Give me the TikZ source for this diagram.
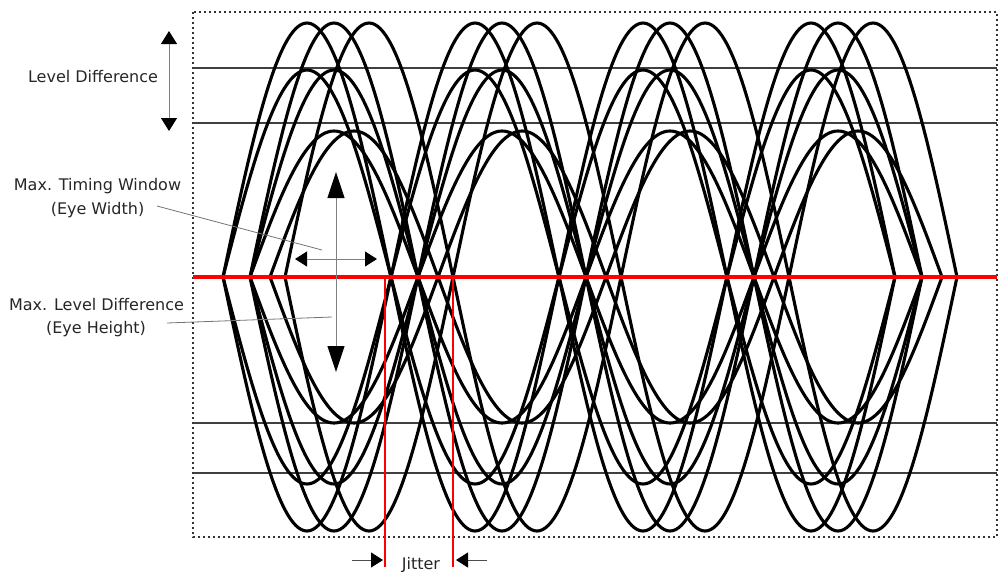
\documentclass[tikz,border=0pt]{standalone}
\usepackage{fontspec}
\setmainfont{DejaVu Sans}
\usetikzlibrary{arrows.meta}
\begin{document}
\begin{tikzpicture}[x=1pt,y=-1pt,
  lobe/.style={line width=3.1pt, black, line cap=round, line join=round},
  levelline/.style={line width=1.5pt, black!75},
  redline/.style={line width=3.2pt, red},
  redvert/.style={line width=2.2pt, red},
  frame/.style={line width=1.7pt, black!80, dash pattern=on 1.7pt off 3.3pt},
  lbl/.style={font=\fontsize{16}{23}\selectfont, text=black!85, inner sep=0pt, anchor=base},
  leader/.style={line width=0.8pt, black!55},
  shaft/.style={line width=1pt, black!50},
  bighead/.style={-{Triangle[length=26pt,width=17pt,color=black,fill=black]}},
  midhead/.style={-{Triangle[length=13pt,width=16pt,color=black,fill=black]}},
  smallhead/.style={-{Triangle[length=12pt,width=15pt,color=black,fill=black]}}]
\useasboundingbox (0,0) rectangle (998,571);

% frame
\draw[frame] (193,12) rectangle (997,537);

% level lines
\foreach \yy/\nm in {68/a,123/b,423/c,473/d}{
  \coordinate (L\nm) at (193,\yy);
  \coordinate (R\nm) at (997,\yy);
  \draw[levelline] (L\nm) -- (R\nm);
}

% eye lobes
\foreach \k in {0,1,2,3}{
  \foreach \s/\a in {223/254, 250/254, 285/254, 223/207, 250/207, 250/146, 270/146}{
    \pgfmathsetmacro\xs{\s+168*\k}
    \draw[lobe] (\xs,277) sin ++(84,-\a) cos ++(84,\a);
    \draw[lobe] (\xs,277) sin ++(84,\a) cos ++(84,-\a);
  }
}

% red lines
\coordinate (rl) at (193,277);
\coordinate (rr) at (997,277);
\draw[redline] (rl) -- (rr);
\coordinate (j1t) at (385,277);
\coordinate (j1b) at (385,567);
\coordinate (j2t) at (453,277);
\coordinate (j2b) at (453,567);
\draw[redvert] (j1t) -- (j1b);
\draw[redvert] (j2t) -- (j2b);

% labels
\node[lbl] (ld) at (93,82) {Level Difference};
\node[lbl] (mtw) at (97.5,190) {Max. Timing Window};
\node[lbl] (ew) at (97.5,214) {(Eye Width)};
\node[lbl] (mld) at (96.5,310) {Max. Level Difference};
\node[lbl] (eh) at (96,333) {(Eye Height)};
\node[lbl] (jit) at (421,569) {Jitter};

% level difference arrow
\coordinate (ldt) at (169,31);
\coordinate (ldb) at (169,131);
\coordinate (ldm) at (169,81);
\draw[shaft, midhead] (ldm) -- (ldt);
\draw[shaft, midhead] (ldm) -- (ldb);

% eye height arrow
\coordinate (eht) at (336,172);
\coordinate (ehb) at (336,372);
\coordinate (ehm) at (336,272);
\draw[shaft, bighead] (ehm) -- (eht);
\draw[shaft, bighead] (ehm) -- (ehb);

% eye width arrow
\coordinate (ewl) at (295,259);
\coordinate (ewr) at (377,259);
\coordinate (ewm) at (336,259);
\draw[shaft, smallhead] (ewm) -- (ewl);
\draw[shaft, smallhead] (ewm) -- (ewr);

% leaders
\coordinate (ewtip) at (322,250);
\coordinate (ehtip) at (332,317);
\coordinate (ews) at (157,206);
\coordinate (ehs) at (167,323);
\draw[leader] (ews) -- (ewtip);
\draw[leader] (ehs) -- (ehtip);

% jitter arrows
\coordinate (jl0) at (352,560);
\coordinate (jl1) at (383,560);
\coordinate (jr0) at (487,560);
\coordinate (jr1) at (456,560);
\draw[shaft, black!70, smallhead] (jl0) -- (jl1);
\draw[shaft, black!70, smallhead] (jr0) -- (jr1);
\end{tikzpicture}
\end{document}
